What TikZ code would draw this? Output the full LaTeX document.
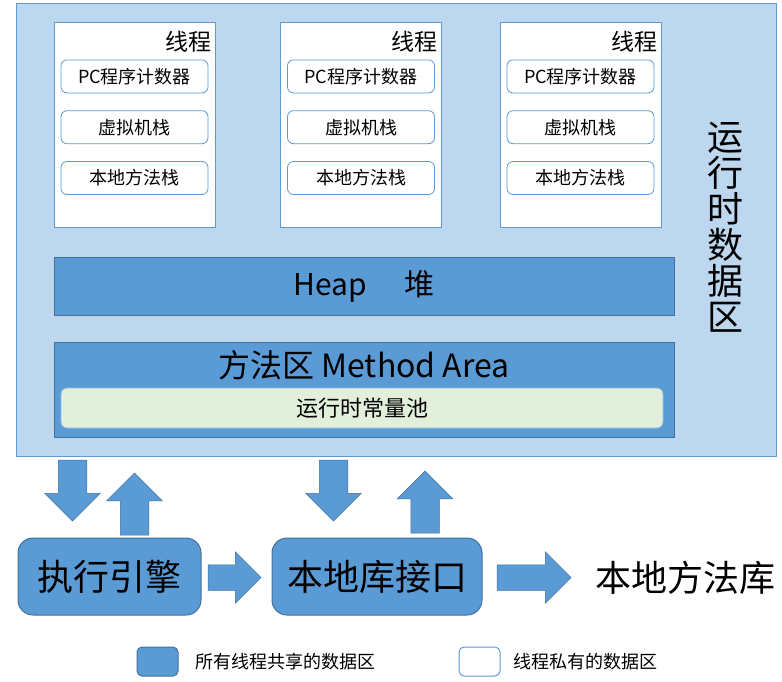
\documentclass[tikz,border=0pt]{standalone}
\usepackage{fontspec}
\setmainfont{Noto Sans CJK SC}
\usetikzlibrary{shapes.arrows,positioning,calc}
\definecolor{areaBlue}{HTML}{BDD7EE}
\definecolor{lineBlue}{HTML}{5B9BD5}
\definecolor{fillBlue}{HTML}{5B9BD5}
\definecolor{darkBlue}{HTML}{41719C}
\definecolor{poolGreen}{HTML}{E2EFDA}

\begin{document}
\begin{tikzpicture}[
    x=1pt, y=-1pt,
    runtime/.style={rectangle, draw=lineBlue, fill=areaBlue, line width=1pt, minimum width=760pt, minimum height=453pt, inner sep=0pt},
    thread/.style={rectangle, draw=lineBlue, fill=white, line width=1pt, minimum width=161pt, minimum height=205pt, inner sep=0pt},
    threadlabel/.style={anchor=east, inner sep=0pt, font=\fontsize{23}{23}\selectfont},
    private/.style={rectangle, draw=lineBlue, fill=white, rounded corners=6pt, line width=0.8pt, minimum width=147pt, minimum height=33pt, inner sep=0pt, font=\fontsize{18}{18}\selectfont},
    shared/.style={rectangle, draw=darkBlue, fill=fillBlue, line width=1pt, minimum width=620pt, inner sep=0pt},
    pool/.style={rectangle, draw=lineBlue!70, fill=poolGreen, rounded corners=6pt, line width=0.8pt, minimum width=602pt, minimum height=40pt, inner sep=0pt, font=\fontsize{22}{22}\selectfont},
    engine/.style={rectangle, draw=darkBlue, fill=fillBlue, rounded corners=15pt, line width=1pt, minimum height=77pt, inner sep=0pt, font=\fontsize{36}{36}\selectfont},
    blockarrow/.style={single arrow, anchor=tail, draw=darkBlue, fill=fillBlue, line width=0.5pt, inner xsep=0pt, outer sep=0pt, single arrow tip angle=90},
    legendbox/.style={rectangle, rounded corners=5pt, line width=1pt, minimum width=41pt, minimum height=29pt, inner sep=0pt},
    legendtext/.style={inner sep=0pt, font=\fontsize{18}{18}\selectfont}
]
    \useasboundingbox (0,0) rectangle (782,681);

    % runtime data area
    \node[runtime] (rt) at (396,229.5) {};
    \node[inner sep=0pt, align=center, font=\fontsize{36}{36}\selectfont] (rtlabel) at (725,227) {运\\行\\时\\数\\据\\区};

    % threads
    \node[thread] (t1) at (134.5,124.5) {};
    \node[threadlabel] (t1label) at ($(t1.north east)+(-4,20)$) {线程};
    \node[private, below=38pt of t1.north] (pc1) {PC程序计数器};
    \node[private, below=17pt of pc1] (vm1) {虚拟机栈};
    \node[private, below=17pt of vm1] (nat1) {本地方法栈};

    \node[thread] (t2) at (361,124.5) {};
    \node[threadlabel] (t2label) at ($(t2.north east)+(-4,20)$) {线程};
    \node[private, below=38pt of t2.north] (pc2) {PC程序计数器};
    \node[private, below=17pt of pc2] (vm2) {虚拟机栈};
    \node[private, below=17pt of vm2] (nat2) {本地方法栈};

    \node[thread] (t3) at (580.5,124.5) {};
    \node[threadlabel] (t3label) at ($(t3.north east)+(-4,20)$) {线程};
    \node[private, below=38pt of t3.north] (pc3) {PC程序计数器};
    \node[private, below=17pt of pc3] (vm3) {虚拟机栈};
    \node[private, below=17pt of vm3] (nat3) {本地方法栈};

    % heap and method area
    \node[shared, minimum height=58pt, font=\fontsize{30}{30}\selectfont] (heap) at (364,286) {Heap\hspace{38pt}堆};
    \node[shared, minimum height=95pt] (method) at (364,389.5) {};
    \node[inner sep=0pt, font=\fontsize{32}{32}\selectfont] (methodtitle) at ($(method.north)+(0,24)$) {方法区 Method Area};
    \node[pool] (cpool) at (362,408) {运行时常量池};

    % engine and native interface
    \node[engine, minimum width=183pt] (exec) at (109.5,576.5) {执行引擎};
    \node[engine, minimum width=210pt] (jni) at (377,576.5) {本地库接口};

    \node[blockarrow, rotate=-90, minimum height=61pt, inner ysep=14pt, single arrow head extend=13.5pt] (down1) at (72.5,460) {};
    \node[blockarrow, rotate=90, minimum height=62pt, inner ysep=14pt, single arrow head extend=13.5pt] (up1) at (134.5,535) {};
    \node[blockarrow, rotate=-90, minimum height=61pt, inner ysep=14pt, single arrow head extend=13.5pt] (down2) at (333.5,460) {};
    \node[blockarrow, rotate=90, minimum height=62pt, inner ysep=14pt, single arrow head extend=13.5pt] (up2) at (425,533) {};
    \node[blockarrow, minimum height=53pt, inner ysep=12.5pt, single arrow head extend=13pt] (right1) at (208,577.5) {};
    \node[blockarrow, minimum height=74pt, inner ysep=12.5pt, single arrow head extend=13pt] (right2) at (497,577.5) {};

    \node[inner sep=0pt, right=24pt of right2.tip, font=\fontsize{36}{36}\selectfont] (nativelib) {本地方法库};

    % legend
    \node[legendbox, draw=darkBlue, fill=fillBlue] (sharedkey) at (157.5,661.5) {};
    \node[legendtext, right=17pt of sharedkey] (sharedtext) {所有线程共享的数据区};
    \node[legendbox, draw=lineBlue, fill=white] (privatekey) at (479.5,661.5) {};
    \node[legendtext, right=13pt of privatekey] (privatetext) {线程私有的数据区};
\end{tikzpicture}
\end{document}
